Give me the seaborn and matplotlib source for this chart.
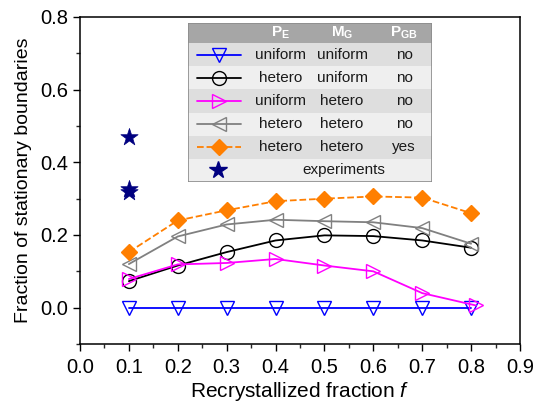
import numpy as np
import pandas as pd
import matplotlib
matplotlib.use("Agg")
import matplotlib.pyplot as plt
from matplotlib.patches import Rectangle
from matplotlib.lines import Line2D
import seaborn as sns

# ---- data ----
f_vals = [0.1, 0.2, 0.3, 0.4, 0.5, 0.6, 0.7, 0.8]
f_mag = [0.1, 0.2, 0.3, 0.4, 0.5, 0.6, 0.7, 0.81]
uni_uni = [0.0, 0.0, 0.0, 0.0, 0.0, 0.0, 0.0, 0.0]
het_uni = [0.073, 0.116, 0.153, 0.185, 0.199, 0.197, 0.185, 0.165]
uni_het = [0.079, 0.119, 0.123, 0.134, 0.116, 0.100, 0.040, 0.006]
het_het = [0.120, 0.196, 0.229, 0.242, 0.238, 0.235, 0.219, 0.176]
het_het_gb = [0.153, 0.240, 0.268, 0.293, 0.300, 0.306, 0.303, 0.260]
exp_f = [0.1, 0.1, 0.1]
exp_vals = [0.47, 0.327, 0.318]

col_PE = ["uniform", "hetero", "uniform", "hetero", "hetero"]
col_MG = ["uniform", "uniform", "hetero", "hetero", "hetero"]
col_PGB = ["no", "no", "no", "no", "yes"]
exp_label = "experiments"

sns.set_theme(style="ticks")
plt.rcParams['font.family'] = ['Liberation Sans', 'DejaVu Sans']
plt.rcParams['mathtext.fontset'] = 'custom'
plt.rcParams['mathtext.rm'] = 'Liberation Sans'
plt.rcParams['mathtext.it'] = 'Liberation Sans:italic'
plt.rcParams['mathtext.bf'] = 'Liberation Sans:bold'

fig = plt.figure(figsize=(5.36, 4.12), dpi=100)
ax = fig.add_axes([80/536, 1-344/412, 440/536, 327/412])

series = [
    (f_vals, uni_uni, dict(color="#0000ff", marker="v", ms=10, mfc="none", ls="-")),
    (f_vals, het_uni, dict(color="#000000", marker="o", ms=10, mfc="none", ls="-")),
    (f_mag, uni_het, dict(color="#ff00ff", marker=">", ms=10, mfc="none", ls="-")),
    (f_vals, het_het, dict(color="#808080", marker="<", ms=10, mfc="none", ls="-")),
    (f_vals, het_het_gb, dict(color="#ff7f00", marker="D", ms=8.5, mfc="#ff7f00", ls="--")),
]
for xs, ys, st in series:
    sns.lineplot(x=xs, y=ys, ax=ax, color=st["color"], marker=st["marker"],
                 markersize=st["ms"], markerfacecolor=st["mfc"],
                 markeredgecolor=st["color"], linestyle=st["ls"], linewidth=1.3,
                 markeredgewidth=1.0, legend=False)

sns.scatterplot(x=exp_f, y=exp_vals, ax=ax, marker="*", s=170, color="#000080",
                edgecolor="#000080", linewidth=0.5, legend=False, zorder=5)

ax.set_xlim(0, 0.9)
ax.set_ylim(-0.1, 0.8)
ax.set_xticks(np.arange(0, 0.91, 0.1))
ax.set_xticks(np.arange(0.05, 0.9, 0.1), minor=True)
ax.set_yticks([0.0, 0.2, 0.4, 0.6, 0.8])
ax.set_yticks([-0.1, 0.1, 0.3, 0.5, 0.7], minor=True)
ax.xaxis.set_major_formatter(matplotlib.ticker.FormatStrFormatter('%.1f'))
ax.yaxis.set_major_formatter(matplotlib.ticker.FormatStrFormatter('%.1f'))
ax.tick_params(axis='both', which='major', direction='out', length=5, width=1,
               labelsize=14.5, colors='black', top=False, right=False)
ax.tick_params(axis='x', which='major', pad=5)
ax.tick_params(axis='both', which='minor', direction='out', length=3, width=1,
               top=False, right=False)
for s in ax.spines.values():
    s.set_visible(True)
    s.set_color('black')
    s.set_linewidth(1.1)
ax.set_xlabel("Recrystallized fraction $f$", fontsize=15, labelpad=2, color='black')
ax.set_ylabel("Fraction of stationary boundaries", fontsize=14, labelpad=6, color='black')

# ---- legend table ----
lx0, lx1 = 188/536, 432/536
ly1, ly0 = 1-23/412, 1-182/412
lax = fig.add_axes([lx0, ly0, lx1-lx0, ly1-ly0])
lax.set_xlim(188, 432)
lax.set_ylim(182, 23)
lax.axis('off')
header_h = 20
row_h = (182-23-header_h)/6
lax.add_patch(Rectangle((188, 23), 244, header_h, facecolor="#a6a6a6", edgecolor='none'))
row_colors = ["#dedede", "#efefef"]
for i in range(6):
    y0 = 23 + header_h + i*row_h
    lax.add_patch(Rectangle((188, y0), 244, row_h, facecolor=row_colors[i % 2], edgecolor='none'))
lax.add_patch(Rectangle((188, 23), 244, 159, facecolor='none', edgecolor="#8c8c8c", linewidth=1.2))
cx = [218, 281, 342, 404]
hy = 23 + header_h/2
for x, t in zip(cx[1:], [r"$\mathbf{P}_\mathbf{E}$", r"$\mathbf{M}_\mathbf{G}$", r"$\mathbf{P}_\mathbf{GB}$"]):
    lax.text(x, hy, t, color='white', ha='center', va='center', fontsize=11)
for i, (xs, ys, st) in enumerate(series):
    yc = 23 + header_h + (i+0.5)*row_h
    lax.add_line(Line2D([197, 219, 241], [yc, yc, yc], color=st["color"], linestyle=st["ls"],
                        linewidth=1.3, marker=st["marker"], markevery=[1],
                        markersize=st["ms"], markerfacecolor=st["mfc"],
                        markeredgecolor=st["color"]))
    for x, t in zip(cx[1:], [col_PE[i], col_MG[i], col_PGB[i]]):
        lax.text(x, yc, t, ha='center', va='center', fontsize=11, color='#1a1a1a')
yc = 23 + header_h + 5.5*row_h
lax.plot([218], [yc], marker="*", ms=13, color="#000080", linestyle='none')
lax.text(344, yc, exp_label, ha='center', va='center', fontsize=11, color='#1a1a1a')

fig.savefig("out.png", dpi=100)
